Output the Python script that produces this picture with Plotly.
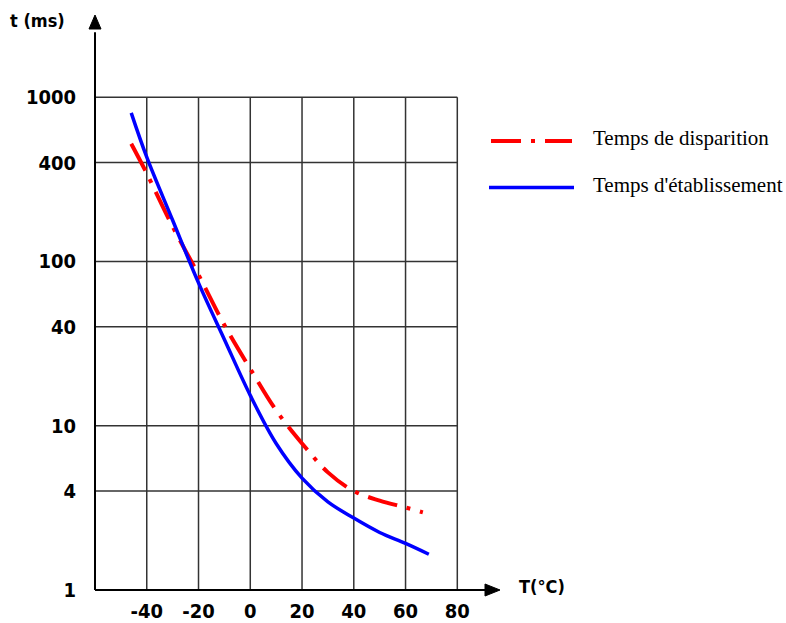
import plotly.graph_objects as go
import math

# ---- data ----
temp_etab = [-46, -40, -30, -20, -10, 0, 10, 20, 30, 40, 50, 60, 69]
t_etab = [802, 431, 178, 74, 33.5, 15.3, 7.8, 4.8, 3.44, 2.74, 2.24, 1.92, 1.65]

temp_disp = [-46, -40, -30, -20, -10, 0, 10, 20, 30, 40, 50, 60, 66.7]
t_disp = [520, 343, 163, 83, 41, 22.2, 12.4, 7.8, 5.2, 4.0, 3.5, 3.18, 2.97]

x_ticks = [-40, -20, 0, 20, 40, 60, 80]
x_ticktext = ["-40", "-20", "0", "20", "40", "60", "80"]
y_ticks = [1, 4, 10, 40, 100, 400, 1000]
y_ticktext = ["1", "4", "10", "40", "100", "400", "1000"]

name_disp = "Temps de disparition"
name_etab = "Temps d'établissement"

# ---- layout geometry ----
X_MIN, X_MAX = -60, 96.5
Y_LOG_MAX = 3.5
GRID_X = (-60, 80)
GRID_Y = (1, 1000)

NARROW = "DejaVu Sans Condensed, Liberation Sans Narrow, Arial Narrow, sans-serif"
SERIF = "Liberation Serif, Times New Roman, serif"
tick_font = dict(family=NARROW, size=20, color="black")

fig = go.Figure()
fig.add_trace(go.Scatter(x=temp_disp, y=t_disp, mode="lines", name=name_disp,
                         line=dict(color="#ff0000", width=4, dash="30px,10px,4px,10px", shape="spline", smoothing=1),
                         showlegend=False))
fig.add_trace(go.Scatter(x=temp_etab, y=t_etab, mode="lines", name=name_etab,
                         line=dict(color="#0000ff", width=3.5, shape="spline", smoothing=1),
                         showlegend=False))

def py(v):
    return math.log10(v) / Y_LOG_MAX

def px(v):
    return (v - X_MIN) / (X_MAX - X_MIN)

shapes = []
grid_line = dict(color="#333333", width=1.5)
for xv in x_ticks:
    shapes.append(dict(type="line", xref="paper", yref="paper", x0=px(xv), x1=px(xv),
                       y0=py(GRID_Y[0]), y1=py(GRID_Y[1]), line=grid_line, layer="below"))
for yv in y_ticks[1:]:
    shapes.append(dict(type="line", xref="paper", yref="paper", x0=px(GRID_X[0]), x1=px(GRID_X[1]),
                       y0=py(yv), y1=py(yv), line=grid_line, layer="below"))

# axes
axis_line = dict(color="black", width=2)
shapes.append(dict(type="line", xref="paper", yref="paper", x0=0, x1=0, y0=0, y1=0.97, line=axis_line))
shapes.append(dict(type="line", xref="paper", yref="paper", x0=0, x1=0.97, y0=0, y1=0, line=axis_line))
# arrowheads (plot area: 405 x 575 px)
W, H = 405.0, 575.0
shapes.append(dict(type="path", xref="paper", yref="paper",
                   path=f"M {-6/W} {1-14/H} L {6/W} {1-14/H} L 0 1 Z",
                   fillcolor="black", line=dict(color="black", width=1)))
shapes.append(dict(type="path", xref="paper", yref="paper",
                   path=f"M {1-15/W} {6/H} L {1-15/W} {-6/H} L 1 0 Z",
                   fillcolor="black", line=dict(color="black", width=1)))

# legend samples (manual)
def lx(p):
    return (p - 95) / W
def ly(p):
    return (590 - p) / H
shapes.append(dict(type="line", xref="paper", yref="paper", x0=lx(491), x1=lx(572), y0=ly(141), y1=ly(141),
                   line=dict(color="#ff0000", width=4, dash="30px,10px,4px,10px")))
shapes.append(dict(type="line", xref="paper", yref="paper", x0=lx(489), x1=lx(574), y0=ly(187.5), y1=ly(187.5),
                   line=dict(color="#0000ff", width=3.5)))

annotations = [
    dict(text=name_disp, xref="paper", yref="paper", x=lx(591), y=ly(138), xanchor="left", yanchor="middle",
         showarrow=False, font=dict(family=SERIF, size=21, color="black")),
    dict(text=name_etab, xref="paper", yref="paper", x=lx(591), y=ly(185), xanchor="left", yanchor="middle",
         showarrow=False, font=dict(family=SERIF, size=21, color="black")),
    dict(text="<b>t (ms)</b>", xref="paper", yref="paper", x=lx(37), y=ly(20.5), xanchor="center", yanchor="middle",
         showarrow=False, font=dict(family=NARROW, size=18, color="black")),
    dict(text="<b>T(°C)</b>", xref="paper", yref="paper", x=lx(542), y=ly(586), xanchor="center", yanchor="middle",
         showarrow=False, font=dict(family=NARROW, size=18, color="black")),
]

fig.update_layout(
    width=786, height=623,
    margin=dict(l=95, r=286, t=15, b=33),
    paper_bgcolor="white", plot_bgcolor="white",
    shapes=shapes, annotations=annotations,
    showlegend=False,
    xaxis=dict(range=[X_MIN, X_MAX], showgrid=False, zeroline=False, showline=False, automargin=False,
               tickmode="array", tickvals=x_ticks, ticktext=[f"<b>{t}</b>" for t in x_ticktext],
               tickfont=tick_font, ticks="", ticklabelstandoff=7),
    yaxis=dict(type="log", range=[0, Y_LOG_MAX], showgrid=False, zeroline=False, showline=False, automargin=False,
               tickmode="array", tickvals=y_ticks, ticktext=[f"<b>{t}</b>" for t in y_ticktext],
               tickfont=tick_font, ticks="", ticklabelstandoff=18),
)

fig.write_html("out.html", config={"displayModeBar": False},
               post_script="document.body.style.margin='0px';document.body.style.overflow='hidden';")
